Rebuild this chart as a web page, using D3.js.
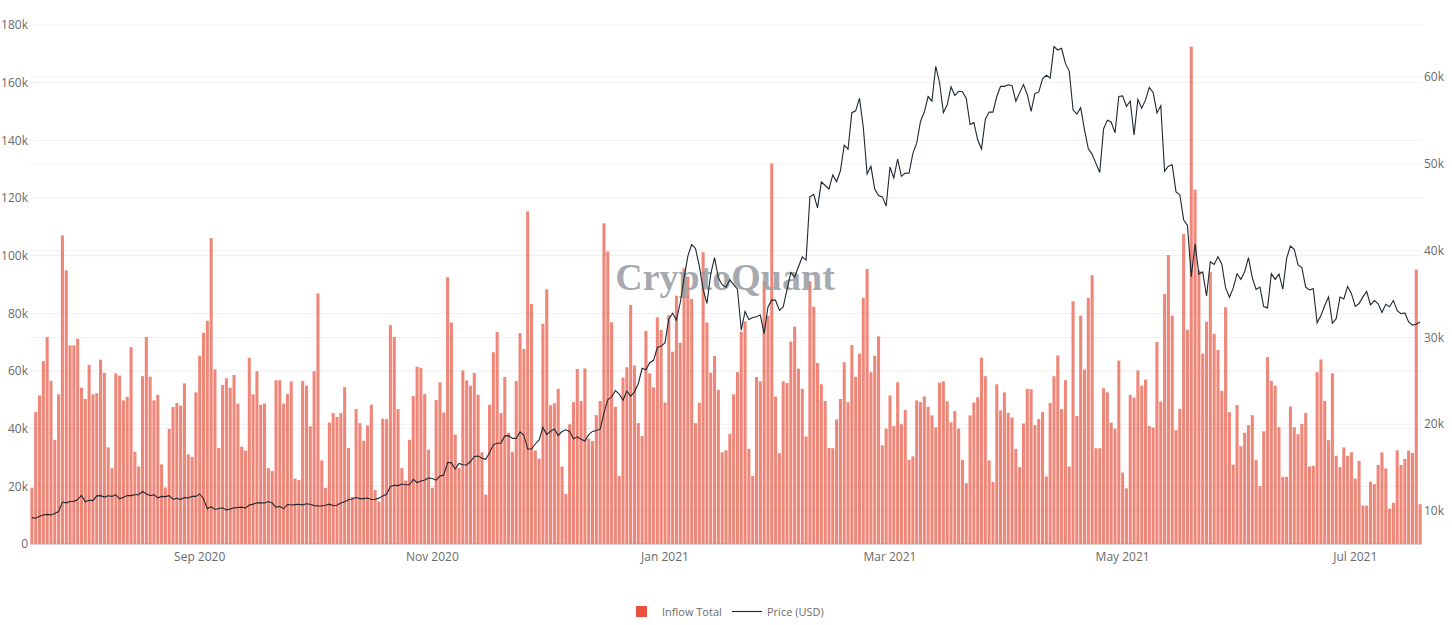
<!DOCTYPE html>
<html>
<head>
  <meta charset="UTF-8">
  <script src="https://d3js.org/d3.v7.min.js"></script>
  <style>
    html, body { margin: 0; padding: 0; background: #fff; }
    svg text { font-family: 'Open Sans', 'Noto Sans', sans-serif; }
  </style>
</head>
<body>
  <svg id="chart"></svg>
<script>
  // first bar = 2020-07-19, one bar per day
  const startDay = '2020-07-19';

  // exchange inflow total, thousands
  const inflow = [
    19.5, 45.8, 51.5, 63.4, 71.8, 56.6, 36.1, 51.9, 107, 94.9,
    68.9, 68.9, 71.2, 54.2, 50.3, 62.1, 51.9, 52.3, 63.9, 59.3,
    33.5, 26.3, 59.2, 58.4, 49.8, 51, 68.3, 32, 26.9, 58.2,
    71.8, 58, 49.8, 51.7, 27.6, 19.6, 39.9, 47.5, 48.9, 48,
    55.7, 31.1, 30.2, 52.6, 65.3, 73.3, 77.4,
    106.1, 60.6, 33.3, 55.1, 57.5, 54.2, 58.6, 48.7, 33.7, 32.4,
    64.6, 51.9, 59.9, 48.3, 48.7, 26.3, 25.3, 56.8, 56.8, 48.7,
    52, 56.4, 22.7, 22.2, 56.5, 54.9, 40.8, 59.9, 86.9, 29,
    19.4, 42.1, 45.4, 44.1, 45.4, 54.4, 33.3, 16.3, 46.8, 41.9,
    35.8, 41.1, 48.3, 18.7, 14.7,
    43.5, 43.3, 75.9, 71.8, 46.8, 26.3, 22, 36.1, 51.3, 61.5,
    61.1, 52, 32.7, 19.5, 49.9, 56.1, 45.6, 92.5, 76.8, 38,
    26.4, 60.2, 56.7, 54.9, 59.3, 51.8, 31.8, 17.1, 48.3, 66.5,
    73.5, 45.4, 57.9, 38.6, 32, 56.5, 73.1, 67.6, 115.4, 83.2,
    32.4, 29.6, 76.4, 88.3, 48.1,
    48.8, 53.8, 26.9, 17.3, 41.5, 49.2, 60.7, 49.6, 60.9, 36.5, 35.7, 44.7, 49.6,
    111.2, 101.4, 76.9, 47.6, 23.6, 57.7, 61.3, 82.9, 61.9, 41.9,
    37.5, 73.9, 59.2, 54.3, 78.6, 74.2, 49.1, 79.4, 66.7, 86.1,
    69.8, 95.6, 92.7, 85, 41.9, 49, 101.2, 76.8, 59.4, 65.2,
    53.4, 31.8,
    32.5, 38.2, 51.9, 59.6, 73.6, 77.2, 33.0, 23.6, 57.9, 56.4,
    91.2, 79.2, 132, 51.1, 31.5, 56.4, 55.8, 70.2, 75.4, 60.8,
    53.8, 37.3, 91.1, 82.3, 62.8, 55.4, 49.6, 33.3, 33.2, 43.2,
    50.3, 63, 49.2, 69, 58, 66, 85.4, 95.4, 59.6, 65.3,
    72, 34.2, 40, 51.5, 40.9,
    56.1, 41.5, 46.5, 29.2, 30.4, 49.8, 49.2, 51.2, 47.6, 44.6,
    40.5, 56, 56.4, 49.5, 42.2, 46.1, 40, 29.2, 21.1, 44.6,
    49.1, 50.9, 64.6, 58.2, 29, 21.5, 55.4, 46.3, 52.6, 45.5,
    43.9, 33, 26.7, 41.8, 53.8, 53.7, 41.2, 43.4, 45.8, 23.4,
    48.9, 58.2, 65.4, 46.8, 56.8,
    26.9, 84.2, 44.4, 79.2, 60.5, 85.3, 93.2, 33.2, 33.2, 54.0,
    52.6, 42.1, 40.0, 63.6, 24.8, 19.3, 51.7, 50.8, 60.2, 54.9,
    57.0, 40.9, 40.4, 70.1, 49.4, 86.7, 100.2, 79.2, 39.5, 46.9,
    107.5, 74.3, 172.5, 122.9, 94.9, 66, 77.1, 94.3, 72.9, 67.3,
    53.1, 82.1, 45.7, 27.5, 48.2,
    33.9, 38.6, 41.2, 44.7, 29.2, 20.1, 39.1, 64.8, 56.6, 54.9,
    40.5, 23.3, 23.3, 47.7, 40.5, 38.1, 41.6, 45.4, 26.9, 27.1,
    59.6, 64.0, 49.6, 36.0, 59.2, 30.6, 26.7, 33.5, 30.6, 31.8,
    22.7, 28.8, 13.3, 13.3, 21.6, 20.8, 27.4, 31.8, 26.2, 12.3,
    14.3, 32.5, 27.4, 29.5, 32.4, 31.6, 95.2, 13.8
  ];

  // price (USD), thousands
  const price = [
    9.24, 9.16, 9.39, 9.54, 9.61, 9.55, 9.71, 9.93, 11.03, 10.94, 11.10, 11.11, 11.32,
    11.80, 11.07, 11.23, 11.19, 11.74, 11.77, 11.60, 11.75, 11.68, 11.88, 11.41, 11.58,
    11.78, 11.77, 11.87, 11.89, 12.25, 11.99, 11.76, 11.88, 11.52, 11.68, 11.66, 11.77,
    11.34, 11.47, 11.32, 11.54, 11.51, 11.68, 11.68,
    11.97, 11.41, 10.25, 10.51, 10.17, 10.28, 10.37, 10.13, 10.24, 10.36, 10.40, 10.44,
    10.33, 10.68, 10.79, 10.95, 10.94, 10.93, 11.09, 10.92, 10.42, 10.54, 10.25, 10.75,
    10.69, 10.73, 10.77, 10.71, 10.84, 10.78,
    10.62, 10.59, 10.57, 10.67, 10.79, 10.60, 10.67, 10.92, 11.06, 11.30, 11.38, 11.55,
    11.43, 11.43, 11.50, 11.32, 11.36, 11.48, 11.74, 11.92, 12.82, 12.97, 12.93, 13.11,
    13.03, 13.03, 13.65, 13.27, 13.46, 13.56, 13.80,
    13.74, 13.55, 14.02, 14.15, 15.58, 15.57, 14.83, 15.48, 15.33, 15.30, 15.70, 16.28,
    16.32, 16.07, 15.96, 16.72, 17.65, 17.80, 17.82, 18.66, 18.68, 18.37, 18.36, 19.11,
    18.73, 17.15, 17.14, 17.72, 18.18, 19.63,
    18.80, 19.20, 19.45, 18.70, 19.15, 19.36, 19.17, 18.32, 18.55, 18.26, 18.06, 18.80,
    19.17, 19.27, 19.43, 21.31, 22.81, 23.14, 23.87, 23.48, 22.75, 23.82, 23.24, 23.73,
    24.66, 26.44, 26.27, 27.08, 27.36, 28.84, 29.00,
    29.37, 32.13, 32.78, 31.97, 33.99, 36.82, 39.37, 40.70, 40.25, 38.24, 35.54, 33.92,
    37.32, 39.19, 36.83, 36.07, 35.79, 36.63, 36.07, 35.55, 30.83, 32.99, 32.07, 32.29,
    32.37, 32.57, 30.43, 33.47, 34.32, 34.27, 33.11,
    33.52, 35.51, 37.47, 36.93, 38.14, 39.27, 38.90, 46.20, 46.48, 44.92, 47.91, 47.50,
    47.11, 48.72, 47.94, 49.20, 52.15, 51.68, 55.89, 56.10, 57.54, 54.21, 48.82, 49.71,
    47.09, 46.34, 46.19, 45.14,
    49.63, 48.38, 50.54, 48.56, 48.93, 48.91, 51.21, 52.38, 54.88, 55.96, 57.75, 57.23,
    61.23, 59.34, 55.91, 56.80, 58.87, 57.86, 58.35, 58.31, 57.52, 54.53, 54.74, 52.77,
    51.70, 55.14, 55.97, 55.95, 57.75, 58.92, 58.92,
    59.10, 59.00, 57.20, 58.20, 59.13, 57.99, 56.03, 58.10, 58.25, 59.79, 60.20, 59.89,
    63.50, 63.11, 63.31, 61.57, 60.68, 56.22, 55.72, 56.47, 53.91, 51.76, 51.09, 50.05,
    49.00, 54.02, 55.03, 54.82, 53.56, 57.75,
    57.83, 56.63, 57.21, 53.33, 57.42, 56.40, 57.36, 58.80, 58.23, 55.86, 56.70, 49.15,
    49.72, 49.88, 46.76, 46.43, 43.54, 42.91, 37.00, 40.78, 37.30, 37.54, 34.77, 38.71,
    38.40, 39.29, 38.44, 35.70, 34.62, 35.68, 37.34,
    36.69, 37.57, 39.19, 36.87, 35.52, 35.80, 33.55, 33.40, 37.35, 36.68, 37.31, 35.55,
    39.10, 40.52, 40.14, 38.35, 38.05, 35.79, 35.48, 35.60, 31.68, 32.51, 33.68, 34.66,
    31.64, 32.16, 34.64, 34.43, 35.87, 35.04,
    33.57, 33.90, 34.67, 35.29, 33.75, 34.24, 33.86, 32.88, 33.81, 33.52, 34.26, 33.09,
    32.73, 32.82, 31.78, 31.42, 31.52, 31.78
  ];

  const leftTicks = [0, 20, 40, 60, 80, 100, 120, 140, 160, 180];
  const rightTicks = [10, 20, 30, 40, 50, 60];
  const monthTicks = ['2020-09-01', '2020-11-01', '2021-01-01', '2021-03-01', '2021-05-01', '2021-07-01'];
  const seriesNames = ['Inflow Total', 'Price (USD)'];

  const width = 1452, height = 625;
  const plot = { left: 30, right: 1422, bottom: 544 };
  const barColor = '#e8523f';
  const lineColor = '#1f2731';

  const parse = d3.utcParse('%Y-%m-%d');
  const day0 = parse(startDay);
  const days = inflow.map((v, i) => d3.utcDay.offset(day0, i));

  const x = d3.scaleUtc()
    .domain([d3.utcHour.offset(days[0], -12), d3.utcHour.offset(days[days.length - 1], 12)])
    .range([plot.left, plot.right]);
  const step = x(days[1]) - x(days[0]);

  const yL = d3.scaleLinear().domain([0, 180]).range([plot.bottom, 25]);
  const yR = d3.scaleLinear().domain([10, 60]).range([511, 77]);

  const svg = d3.select('#chart')
    .attr('width', width)
    .attr('height', height);

  // grid lines (both axes)
  const grid = svg.append('g').attr('class', 'grid');
  grid.selectAll('line.gl')
    .data(leftTicks.slice(1))
    .join('line')
    .attr('x1', plot.left).attr('x2', plot.right)
    .attr('y1', d => yL(d)).attr('y2', d => yL(d))
    .attr('stroke', '#eeeeee');
  grid.selectAll('line.gr')
    .data(rightTicks)
    .join('line')
    .attr('x1', plot.left).attr('x2', plot.right)
    .attr('y1', d => yR(d)).attr('y2', d => yR(d))
    .attr('stroke', '#f1f1f1');

  // bars
  svg.append('g')
    .attr('class', 'bars')
    .selectAll('rect')
    .data(inflow)
    .join('rect')
    .attr('x', (d, i) => x(days[i]) - step * 0.4)
    .attr('width', step * 0.8)
    .attr('y', d => yL(d))
    .attr('height', d => yL(0) - yL(d))
    .attr('fill', barColor)
    .attr('fill-opacity', 0.7);

  // zero line
  svg.append('line')
    .attr('x1', plot.left).attr('x2', plot.right)
    .attr('y1', yL(0)).attr('y2', yL(0))
    .attr('stroke', '#a8a8a8')
    .attr('stroke-width', 1);

  // watermark
  svg.append('text')
    .attr('x', 725)
    .attr('y', 290)
    .attr('text-anchor', 'middle')
    .style('font-family', "'Liberation Serif', 'DejaVu Serif', serif")
    .style('font-weight', 'bold')
    .style('font-size', '38px')
    .attr('fill', '#9a9ea3')
    .attr('fill-opacity', 0.88)
    .text('CryptoQuant');

  // price line
  const line = d3.line()
    .x((d, i) => x(days[i]))
    .y(d => yR(d));
  svg.append('path')
    .datum(price)
    .attr('d', line)
    .attr('fill', 'none')
    .attr('stroke', lineColor)
    .attr('stroke-width', 1.1);

  // axes labels
  const tickColor = '#6b6b6b';
  svg.append('g')
    .selectAll('text')
    .data(leftTicks)
    .join('text')
    .attr('x', 28)
    .attr('y', d => yL(d))
    .attr('dy', '0.35em')
    .attr('text-anchor', 'end')
    .attr('fill', tickColor)
    .style('font-size', '12px')
    .text(d => d === 0 ? '0' : d + 'k');

  svg.append('g')
    .selectAll('text')
    .data(rightTicks)
    .join('text')
    .attr('x', 1424)
    .attr('y', d => yR(d))
    .attr('dy', '0.35em')
    .attr('text-anchor', 'start')
    .attr('fill', tickColor)
    .style('font-size', '12px')
    .text(d => d + 'k');

  const fmt = d3.utcFormat('%b %Y');
  svg.append('g')
    .selectAll('text')
    .data(monthTicks.map(parse))
    .join('text')
    .attr('x', d => x(d))
    .attr('y', 561)
    .attr('text-anchor', 'middle')
    .attr('fill', tickColor)
    .style('font-size', '12px')
    .text(d => fmt(d));

  // legend
  const legend = svg.append('g').attr('class', 'legend');
  legend.append('rect')
    .attr('x', 636).attr('y', 606)
    .attr('width', 11).attr('height', 11)
    .attr('fill', barColor);
  legend.append('text')
    .attr('x', 662).attr('y', 615.5)
    .attr('fill', tickColor)
    .style('font-size', '11px')
    .text(seriesNames[0]);
  legend.append('line')
    .attr('x1', 732).attr('x2', 762)
    .attr('y1', 611.5).attr('y2', 611.5)
    .attr('stroke', lineColor)
    .attr('stroke-width', 1.1);
  legend.append('text')
    .attr('x', 767).attr('y', 615.5)
    .attr('fill', tickColor)
    .style('font-size', '11px')
    .text(seriesNames[1]);
</script>
</body>
</html>
